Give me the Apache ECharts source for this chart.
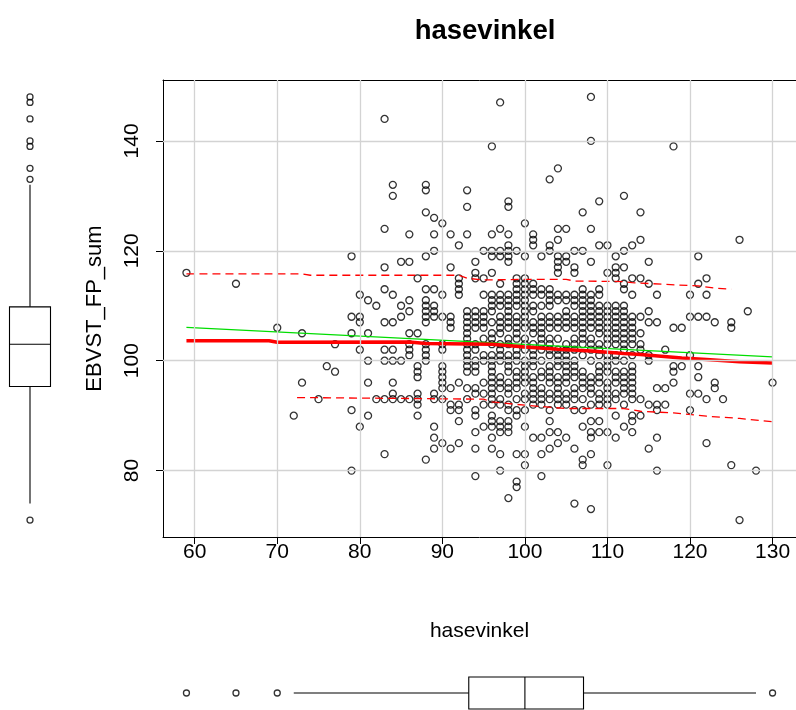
<!DOCTYPE html>
<html>
<head>
<meta charset="utf-8">
<script src="https://cdn.jsdelivr.net/npm/echarts@6/dist/echarts.min.js"></script>
<style>
  html, body { margin: 0; padding: 0; background: #ffffff; }
  #chart { width: 796px; height: 710px; }
</style>
</head>
<body>
<div id="chart"></div>
<script>
// hasevinkel (x) values; each entry of scoreStacks holds the EBVST_FP_sum values seen at that angle
const angleValues = [59, 65, 70, 72, 73, 75, 76, 77, 79, 80, 81, 82, 83, 84, 85, 86, 87, 88, 89, 90,
  91, 92, 93, 94, 95, 96, 97, 98, 99, 100, 101, 102, 103, 104, 105, 106, 107, 108, 109, 110,
  111, 112, 113, 114, 115, 116, 117, 118, 119, 120, 121, 122, 123, 124, 125, 126, 127, 128, 130];

const scoreStacks = [
  [116],
  [114],
  [106],
  [90],
  [105, 96],
  [93],
  [99],
  [103, 98],
  [119, 108, 105, 91, 80],
  [112, 108, 107, 102, 88],
  [111, 105, 100, 96, 90],
  [110, 93],
  [144, 124, 117, 113, 107, 102, 100, 93, 83],
  [132, 130, 112, 107, 102, 100, 96, 94, 93],
  [118, 110, 108, 100, 93],
  [123, 118, 111, 109, 105, 103, 102, 101, 93],
  [115, 105, 99, 98, 97, 94, 93, 92, 90],
  [132, 131, 127, 119, 113, 111, 110, 109, 108, 107, 103, 102, 101, 100, 82],
  [126, 123, 120, 113, 110, 109, 108, 94, 93, 88, 86, 84],
  [125, 112, 108, 103, 102, 99, 98, 97, 96, 95, 93, 85],
  [123, 117, 108, 107, 106, 95, 92, 91, 84],
  [121, 115, 114, 113, 112, 96, 92, 91, 89, 85],
  [131, 128, 123, 109, 108, 107, 106, 105, 104, 103, 102, 101, 100, 99, 98, 95, 93],
  [118, 116, 115, 109, 108, 107, 106, 103, 102, 100, 99, 98, 95, 94, 91, 90, 87, 84, 79],
  [120, 115, 112, 109, 108, 107, 106, 104, 101, 100, 96, 94, 92, 88],
  [139, 123, 120, 119, 116, 112, 111, 110, 109, 107, 105, 104, 103, 101, 100, 99, 98, 97, 96, 95, 94, 93, 92, 90, 89, 88, 86, 84],
  [147, 124, 120, 119, 114, 112, 111, 110, 108, 107, 106, 105, 103, 102, 101, 100, 97, 96, 95, 93, 92, 89, 88, 87, 83, 80],
  [129, 128, 123, 121, 120, 119, 118, 112, 111, 110, 109, 108, 107, 106, 104, 103, 101, 100, 99, 98, 96, 95, 94, 92, 91, 89, 88, 87, 75],
  [120, 115, 114, 113, 112, 111, 110, 108, 107, 106, 105, 104, 102, 101, 100, 98, 97, 96, 95, 93, 91, 90, 83, 78, 77],
  [125, 119, 115, 114, 113, 112, 111, 110, 109, 108, 107, 106, 104, 103, 102, 100, 99, 98, 97, 96, 94, 93, 91, 88, 83, 81],
  [123, 122, 121, 114, 113, 112, 110, 109, 107, 106, 105, 103, 102, 101, 100, 99, 97, 96, 95, 94, 93, 92, 86],
  [119, 113, 112, 110, 108, 107, 106, 105, 104, 103, 102, 100, 98, 97, 95, 94, 93, 92, 86, 83, 79],
  [133, 121, 120, 113, 112, 111, 110, 108, 107, 106, 104, 103, 102, 101, 99, 98, 97, 96, 94, 93, 91, 89, 87, 84],
  [135, 124, 122, 119, 118, 117, 116, 112, 111, 108, 107, 106, 104, 102, 101, 100, 99, 97, 96, 95, 94, 93, 92, 87, 85],
  [124, 119, 118, 112, 111, 109, 108, 107, 106, 103, 102, 101, 100, 99, 98, 97, 96, 94, 93, 92, 86],
  [120, 117, 116, 112, 111, 110, 108, 107, 106, 104, 103, 102, 100, 99, 98, 97, 95, 94, 93, 91, 84, 74],
  [127, 120, 113, 112, 111, 110, 109, 108, 107, 106, 105, 104, 103, 101, 98, 97, 96, 95, 93, 91, 88, 82, 81],
  [148, 140, 124, 118, 112, 111, 110, 109, 108, 107, 106, 104, 103, 102, 100, 97, 96, 95, 94, 92, 89, 87, 86, 83, 73],
  [129, 121, 113, 112, 110, 109, 108, 107, 106, 105, 103, 102, 101, 99, 98, 97, 96, 94, 93, 92, 89, 87],
  [121, 116, 110, 109, 108, 107, 106, 105, 104, 103, 101, 100, 99, 98, 96, 95, 94, 93, 92, 87, 81],
  [119, 117, 116, 115, 110, 109, 108, 107, 106, 105, 104, 103, 101, 100, 98, 97, 96, 94, 93, 90, 86],
  [130, 120, 117, 114, 113, 110, 109, 108, 107, 106, 105, 104, 103, 102, 100, 98, 97, 96, 95, 94, 92, 88],
  [121, 115, 112, 108, 107, 106, 105, 104, 103, 101, 99, 98, 97, 96, 95, 94, 93, 90, 89, 87],
  [127, 122, 115, 108, 105, 103, 102, 93, 90],
  [118, 114, 109, 107, 101, 100, 92, 84],
  [112, 107, 95, 92, 91, 86, 80],
  [102, 95, 92],
  [139, 106, 99, 98, 96],
  [106, 99],
  [112, 108, 101, 94, 91],
  [119, 114, 108, 99, 97, 94],
  [115, 112, 108, 93, 85],
  [107, 96, 95],
  [93],
  [107, 106, 81],
  [122, 71],
  [109],
  [80],
  [96]
];

// tick positions
const xTicks = [60, 70, 80, 90, 100, 110, 120, 130];
const yTicks = [80, 100, 120, 140];

// fitted lines
const linearFit = [[59, 106.05], [130, 100.7]];
const smoothFit = [[59, 103.64], [69, 103.64], [70, 103.35], [86, 103.4], [88, 103.15], [96, 103.0],
  [100, 102.5], [104, 102.1], [108, 101.75], [112, 101.3], [114, 101.15], [119, 100.5],
  [122, 100.2], [126, 99.8], [130, 99.6]];
const upperSpread = [[59, 115.8], [73, 115.8], [74, 115.55], [92, 115.55], [93, 115.0], [95, 114.7],
  [100, 114.8], [105, 114.8], [106, 114.5], [112, 114.4], [113, 114.2], [117, 113.9],
  [121, 113.6], [123, 113.2], [125, 113.0]];
const lowerSpread = [[72.4, 93.3], [95, 93.0], [96, 92.5], [100, 91.9], [105, 91.3], [112, 91.3],
  [114, 90.8], [118, 90.5], [122, 89.9], [126, 89.5], [130, 88.9]];

// marginal boxplots: [lower whisker, Q1, median, Q3, upper whisker]
const angleBox = [72, 93.2, 100, 107.1, 128];
const angleOutliers = [59, 65, 70, 130];
const scoreBox = [74, 95.3, 103, 109.8, 132];
const scoreOutliers = [148, 147, 144, 140, 139, 135, 133, 71];

const points = [];
angleValues.forEach((a, i) => scoreStacks[i].forEach(s => points.push([a, s])));

const X_MIN = 56.16, X_MAX = 132.84, Y_MIN = 67.92, Y_MAX = 151.08;
const FONT = '"Liberation Sans", Arial, sans-serif';
const ringStyle = { color: 'rgba(0,0,0,0)', borderColor: '#000', borderWidth: 1.3 };
const frameLine = { show: true, onZero: false, lineStyle: { color: '#000', width: 1 } };

function verticalBox(params, api) {
  const cx = api.coord([0.5, api.value(2)])[0];
  const y = v => api.coord([0.5, v])[1];
  const half = 20.5;
  const s = { stroke: '#000', lineWidth: 1.1, fill: 'none' };
  return {
    type: 'group',
    children: [
      { type: 'rect', shape: { x: cx - half, y: y(api.value(3)), width: 2 * half, height: y(api.value(1)) - y(api.value(3)) }, style: { stroke: '#000', lineWidth: 1.1, fill: '#fff' } },
      { type: 'line', shape: { x1: cx - half, y1: y(api.value(2)), x2: cx + half, y2: y(api.value(2)) }, style: s },
      { type: 'line', shape: { x1: cx, y1: y(api.value(3)), x2: cx, y2: y(api.value(4)) }, style: s },
      { type: 'line', shape: { x1: cx, y1: y(api.value(1)), x2: cx, y2: y(api.value(0)) }, style: s }
    ]
  };
}

function horizontalBox(params, api) {
  const cy = api.coord([api.value(2), 0.5])[1];
  const x = v => api.coord([v, 0.5])[0];
  const half = 16;
  const s = { stroke: '#000', lineWidth: 1.1, fill: 'none' };
  return {
    type: 'group',
    children: [
      { type: 'rect', shape: { x: x(api.value(1)), y: cy - half, width: x(api.value(3)) - x(api.value(1)), height: 2 * half }, style: { stroke: '#000', lineWidth: 1.1, fill: '#fff' } },
      { type: 'line', shape: { x1: x(api.value(2)), y1: cy - half, x2: x(api.value(2)), y2: cy + half }, style: s },
      { type: 'line', shape: { x1: x(api.value(3)), y1: cy, x2: x(api.value(4)), y2: cy }, style: s },
      { type: 'line', shape: { x1: x(api.value(1)), y1: cy, x2: x(api.value(0)), y2: cy }, style: s }
    ]
  };
}

const chart = echarts.init(document.getElementById('chart'), null, { renderer: 'canvas' });

chart.setOption({
  animation: false,
  backgroundColor: '#ffffff',
  textStyle: { fontFamily: FONT },
  title: {
    text: 'hasevinkel',
    left: 480,
    top: 12,
    textAlign: 'center',
    textStyle: { fontFamily: FONT, fontSize: 27.5, fontWeight: 'bold', color: '#000' }
  },
  grid: [
    { left: 163, top: 80, width: 634, height: 457 },
    { left: 0, top: 80, width: 60, height: 457 },
    { left: 163, top: 676, width: 634, height: 34 }
  ],
  xAxis: [
    {
      gridIndex: 0, type: 'value', min: X_MIN, max: X_MAX,
      name: 'hasevinkel', nameLocation: 'middle', nameGap: 84,
      nameTextStyle: { fontFamily: FONT, fontSize: 21, color: '#000' },
      axisLine: frameLine,
      axisTick: { show: true, customValues: xTicks, length: 7, lineStyle: { color: '#000', width: 1 } },
      axisLabel: { customValues: xTicks, fontFamily: FONT, fontSize: 21, color: '#000', margin: 5 },
      splitLine: { show: false }
    },
    {
      gridIndex: 0, type: 'value', position: 'top', min: X_MIN, max: X_MAX,
      axisLine: frameLine, axisTick: { show: false }, axisLabel: { show: false }, splitLine: { show: false }
    },
    { gridIndex: 1, type: 'value', min: 0, max: 1, show: false },
    { gridIndex: 2, type: 'value', min: X_MIN, max: X_MAX, show: false }
  ],
  yAxis: [
    {
      gridIndex: 0, type: 'value', min: Y_MIN, max: Y_MAX,
      name: 'EBVST_FP_sum', nameLocation: 'middle', nameGap: 57, nameRotate: 90,
      nameTextStyle: { fontFamily: FONT, fontSize: 22, color: '#000' },
      axisLine: frameLine,
      axisTick: { show: true, customValues: yTicks, length: 7, lineStyle: { color: '#000', width: 1 } },
      axisLabel: { customValues: yTicks, rotate: 90, fontFamily: FONT, fontSize: 21, color: '#000', margin: 20 },
      splitLine: { show: false }
    },
    { gridIndex: 1, type: 'value', min: Y_MIN, max: Y_MAX, show: false },
    { gridIndex: 2, type: 'value', min: 0, max: 1, show: false }
  ],
  series: [
    {
      type: 'line', xAxisIndex: 0, yAxisIndex: 0, data: [], z: 1, silent: true,
      markLine: {
        silent: true, symbol: 'none', animation: false,
        label: { show: false },
        lineStyle: { color: '#d3d3d3', type: 'solid', width: 1.3 },
        data: xTicks.map(v => ({ xAxis: v })).concat(yTicks.map(v => ({ yAxis: v })))
      }
    },
    {
      type: 'scatter', xAxisIndex: 0, yAxisIndex: 0, data: points, z: 2,
      symbol: 'circle', symbolSize: 7, itemStyle: ringStyle, silent: true
    },
    {
      type: 'line', xAxisIndex: 0, yAxisIndex: 0, data: linearFit, z: 3, showSymbol: false, silent: true,
      lineStyle: { color: '#00dd00', width: 1.3 }
    },
    {
      type: 'line', xAxisIndex: 0, yAxisIndex: 0, data: smoothFit, z: 4, showSymbol: false, silent: true,
      lineStyle: { color: '#ff0000', width: 3.5 }
    },
    {
      type: 'line', xAxisIndex: 0, yAxisIndex: 0, data: upperSpread, z: 4, showSymbol: false, silent: true,
      lineStyle: { color: '#ff0000', width: 1.3, type: [8, 5] }
    },
    {
      type: 'line', xAxisIndex: 0, yAxisIndex: 0, data: lowerSpread, z: 4, showSymbol: false, silent: true,
      lineStyle: { color: '#ff0000', width: 1.3, type: [8, 5] }
    },
    {
      type: 'custom', xAxisIndex: 2, yAxisIndex: 1, data: [scoreBox], renderItem: verticalBox, silent: true
    },
    {
      type: 'scatter', xAxisIndex: 2, yAxisIndex: 1, data: scoreOutliers.map(v => [0.5, v]),
      symbol: 'circle', symbolSize: 6, itemStyle: ringStyle, silent: true
    },
    {
      type: 'custom', xAxisIndex: 3, yAxisIndex: 2, data: [angleBox], renderItem: horizontalBox, silent: true
    },
    {
      type: 'scatter', xAxisIndex: 3, yAxisIndex: 2, data: angleOutliers.map(v => [v, 0.5]),
      symbol: 'circle', symbolSize: 6, itemStyle: ringStyle, silent: true
    }
  ]
});
</script>
</body>
</html>
